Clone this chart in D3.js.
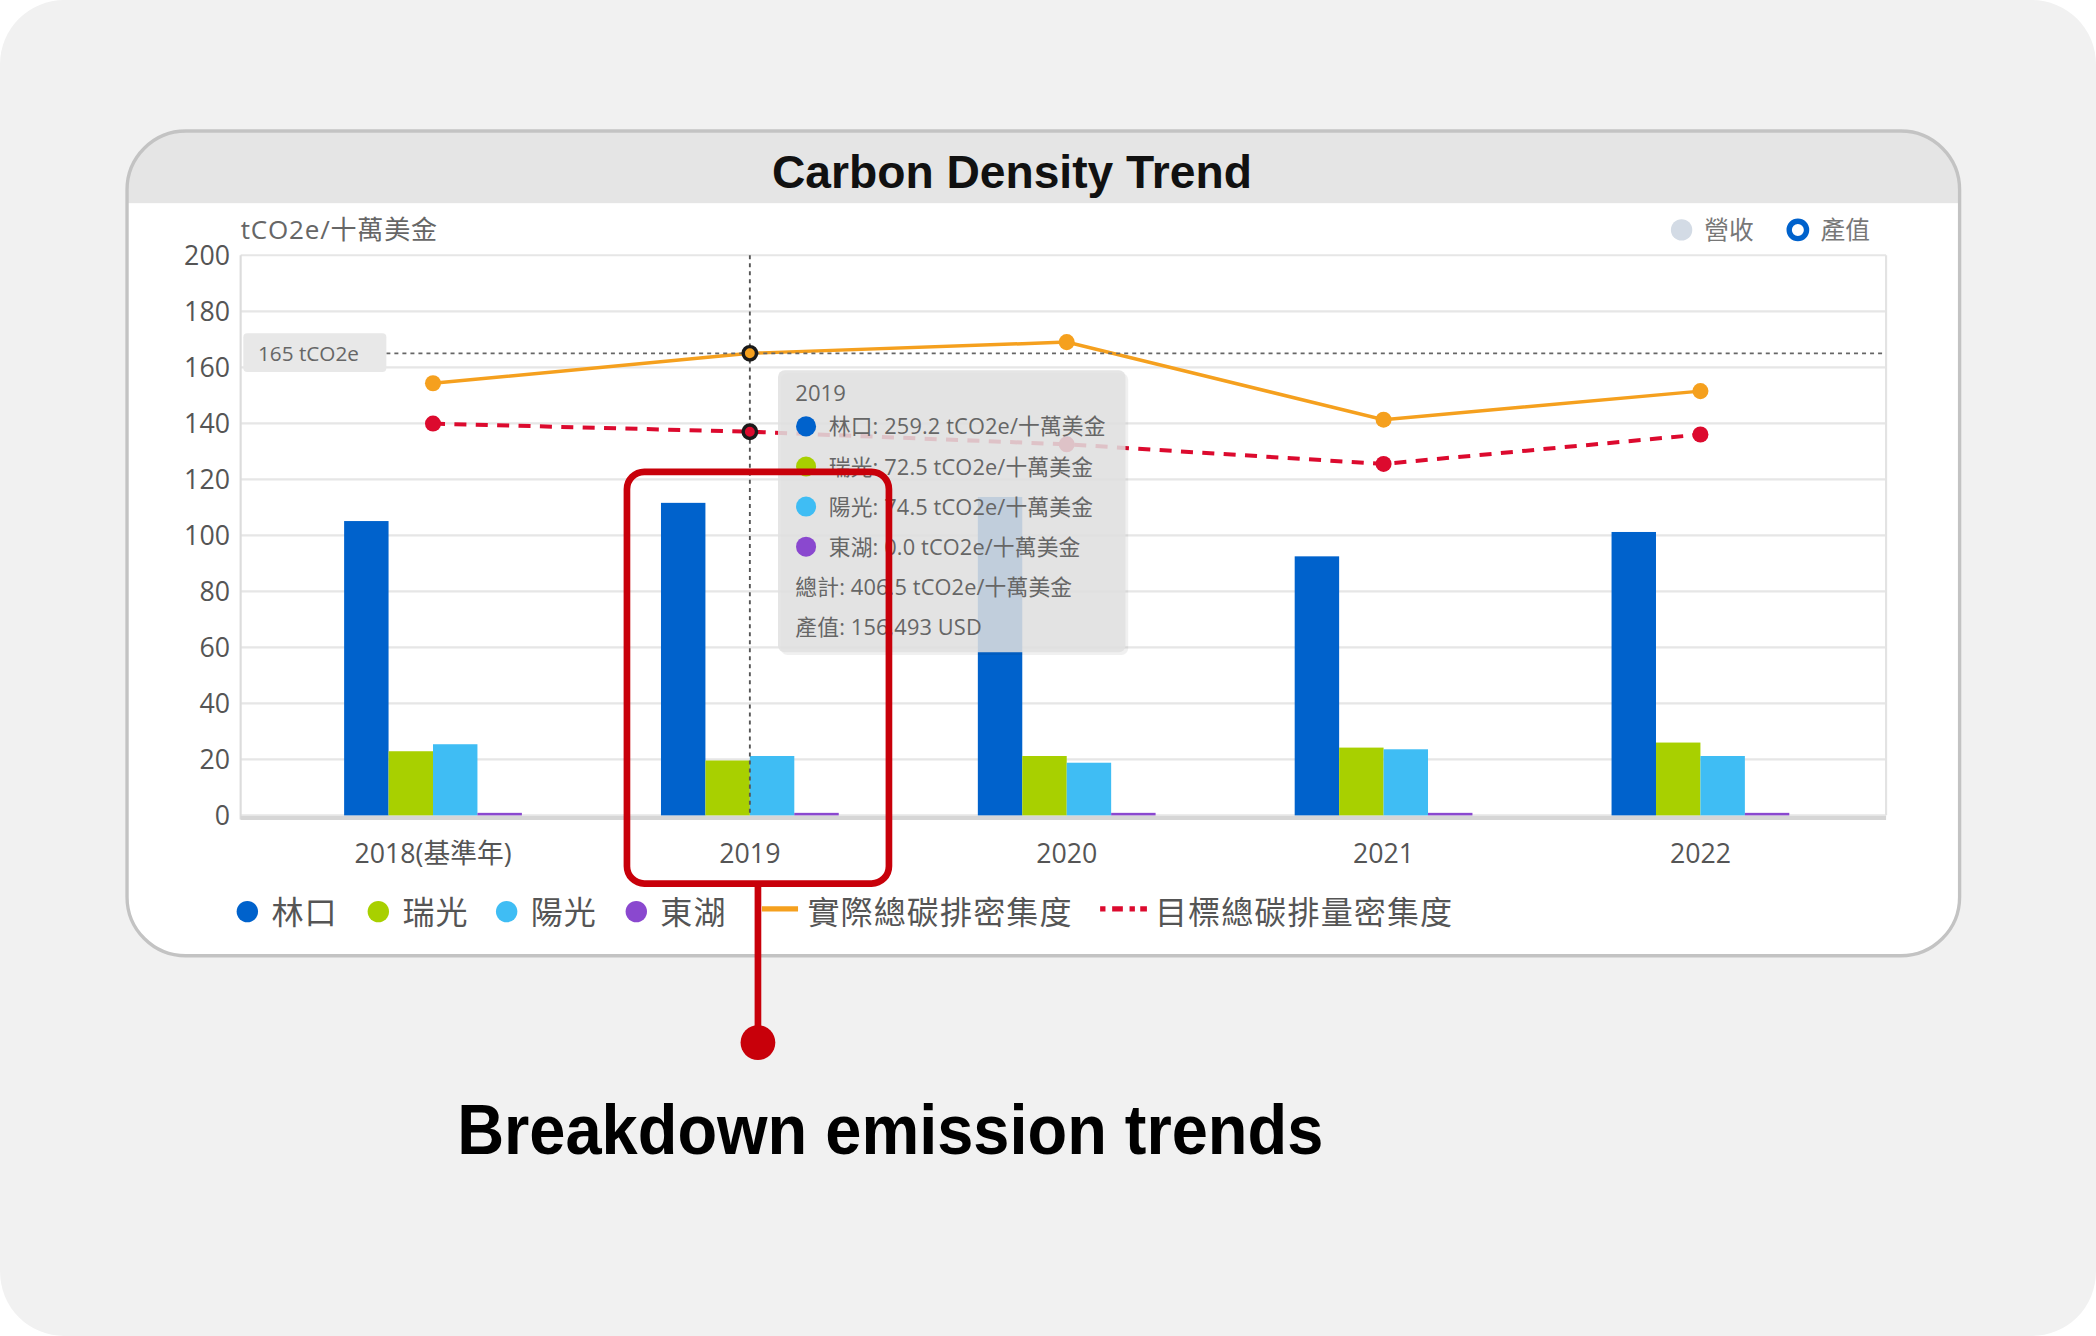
<!DOCTYPE html>
<html><head><meta charset="utf-8">
<script src="https://cdn.jsdelivr.net/npm/d3@7"></script>
<style>
html,body{margin:0;padding:0;background:#fff;}
svg{display:block;}
</style></head>
<body>
<svg id="c" width="2096" height="1336" viewBox="0 0 1568 999.5"></svg>
<script>
// ---- data ----
const years = ["2018(基準年)", "2019", "2020", "2021", "2022"];
const seriesNames = ["林口", "瑞光", "陽光", "東湖"];
const linkou = [105.1, 111.6, 113.7, 92.5, 101.2];
const ruiguang = [22.9, 19.6, 21.2, 24.2, 26.0];
const yangguang = [25.4, 21.2, 18.8, 23.6, 21.2];
const donghu = [0.9, 0.9, 0.9, 0.9, 0.9];
const actualDensity = [154.3, 165.0, 169.0, 141.3, 151.5];
const targetDensity = [139.9, 137.0, 132.5, 125.5, 136.0];
const yTicks = [0, 20, 40, 60, 80, 100, 120, 140, 160, 180, 200];
const lineNames = ["實際總碳排密集度", "目標總碳排量密集度"];
const topLegend = ["營收", "產值"];
const tooltipTitle = "2019";
const tooltipRows = ["林口: 259.2 tCO2e/十萬美金", "瑞光: 72.5 tCO2e/十萬美金", "陽光: 74.5 tCO2e/十萬美金", "東湖: 0.0 tCO2e/十萬美金"];
const tooltipExtra = ["總計: 406.5 tCO2e/十萬美金", "產值: 156,493 USD"];
const crosshairValue = 165;
const crosshairLabel = "165 tCO2e";
const highlightIndex = 1;

const colors = ["#0062cc", "#a8d000", "#3fbdf4", "#8a48cf"];
const orange = "#f5a01e", red = "#dc0a2e";
const FONT = "'Open Sans','Noto Sans CJK TC',sans-serif";
const HFONT = "'Liberation Sans','Inter',Arial,sans-serif";

const svg = d3.select("#c");
const W = 1568, H = 999.5;

// page background
svg.append("rect").attr("x",0).attr("y",0).attr("width",W).attr("height",H).attr("rx",48).attr("fill","#f1f1f1");

// card
const card = {x:95, y:98, w:1371, h:617, r:44};
const defs = svg.append("defs");
defs.append("clipPath").attr("id","cardClip").append("rect")
  .attr("x",card.x).attr("y",card.y).attr("width",card.w).attr("height",card.h).attr("rx",card.r);
svg.append("rect").attr("x",card.x).attr("y",card.y).attr("width",card.w).attr("height",card.h).attr("rx",card.r).attr("fill","#fff");
svg.append("rect").attr("clip-path","url(#cardClip)").attr("x",card.x).attr("y",card.y).attr("width",card.w).attr("height",54).attr("fill","#e5e5e5");
svg.append("rect").attr("x",card.x).attr("y",card.y).attr("width",card.w).attr("height",card.h).attr("rx",card.r)
  .attr("fill","none").attr("stroke","#c3c3c3").attr("stroke-width",2.5);

svg.append("text").attr("x",757).attr("y",141).attr("text-anchor","middle")
  .attr("font-family",HFONT).attr("font-weight",700).attr("font-size",34).attr("fill","#111")
  .attr("textLength",359).attr("lengthAdjust","spacingAndGlyphs").text("Carbon Density Trend");

// scales
const plot = {l:180, r:1411, t:191, b:610};
const x0 = d3.scaleBand().domain(years).range([plot.l + 2.5, plot.r + 2.5]).paddingInner(0.439).paddingOuter(0.316);
const x1 = d3.scaleBand().domain(seriesNames).range([0, x0.bandwidth()]).padding(0);
const y = d3.scaleLinear().domain([0, 200]).range([plot.b, plot.t]);
const cx = d => x0(d) + x0.bandwidth()/2;

// grid
const g = svg.append("g");
g.selectAll("line.grid").data(yTicks).join("line")
  .attr("x1",plot.l).attr("x2",plot.r).attr("y1",d=>y(d)).attr("y2",d=>y(d))
  .attr("stroke","#e6e6e6").attr("stroke-width",1.6);
g.append("line").attr("x1",plot.r).attr("x2",plot.r).attr("y1",plot.t).attr("y2",plot.b).attr("stroke","#e3e3e3").attr("stroke-width",1.6);
g.append("line").attr("x1",plot.l).attr("x2",plot.l).attr("y1",plot.t).attr("y2",plot.b+3).attr("stroke","#dcdcdc").attr("stroke-width",1.6);

// y axis
const yAxis = d3.axisLeft(y).tickValues(yTicks).tickSize(0).tickPadding(8);
const ya = svg.append("g").attr("transform",`translate(${plot.l},0)`).call(yAxis);
ya.select(".domain").remove();
ya.selectAll("text").attr("font-family",FONT).attr("font-size",20).attr("fill","#555").attr("x",-8);

svg.append("text").attr("x",180).attr("y",179).attr("font-family",FONT).attr("font-size",19.5).attr("letter-spacing",0.6).attr("fill","#666").text("tCO2e/十萬美金");

// bars
const seriesVals = [linkou, ruiguang, yangguang, donghu];
const barData = [];
years.forEach((yr,i)=> seriesVals.forEach((arr,j)=> barData.push({yr, s:seriesNames[j], v:arr[i], c:colors[j]})));
svg.append("g").selectAll("rect").data(barData).join("rect")
  .attr("x",d=>x0(d.yr)+x1(d.s)).attr("width",x1.bandwidth())
  .attr("y",d=>y(d.v)).attr("height",d=>y(0)-y(d.v)).attr("fill",d=>d.c);

// x axis
svg.append("line").attr("x1",plot.l).attr("x2",plot.r).attr("y1",plot.b+2).attr("y2",plot.b+2).attr("stroke","#d6d6d6").attr("stroke-width",3);
const xAxis = d3.axisBottom(x0).tickSize(0).tickPadding(0);
const xa = svg.append("g").attr("transform",`translate(0,${plot.b})`).call(xAxis);
xa.select(".domain").remove();
xa.selectAll("text").attr("font-family",FONT).attr("font-size",20).attr("fill","#555").attr("dy",0).attr("y",36);

// lines
const lineGen = d3.line().x((d,i)=>cx(years[i])).y(d=>y(d));
svg.append("path").datum(actualDensity).attr("d",lineGen).attr("fill","none").attr("stroke",orange).attr("stroke-width",2.6);
svg.append("path").datum(targetDensity).attr("d",lineGen).attr("fill","none").attr("stroke",red).attr("stroke-width",3).attr("stroke-dasharray","9,7");

// crosshair
svg.append("line").attr("x1",cx(years[highlightIndex])).attr("x2",cx(years[highlightIndex])).attr("y1",plot.t).attr("y2",plot.b)
  .attr("stroke","#555").attr("stroke-width",1.4).attr("stroke-dasharray","3,3");
svg.append("line").attr("x1",289).attr("x2",plot.r).attr("y1",y(crosshairValue)).attr("y2",y(crosshairValue))
  .attr("stroke","#666").attr("stroke-width",1.4).attr("stroke-dasharray","3,3");
svg.append("rect").attr("x",182).attr("y",y(crosshairValue)-15).attr("width",107).attr("height",29).attr("rx",3).attr("fill","#e8e8e8");
svg.append("text").attr("x",193).attr("y",y(crosshairValue)+6).attr("font-family",FONT).attr("font-size",15.5).attr("fill","#666").text(crosshairLabel);

// points
[[actualDensity, orange],[targetDensity, red]].forEach(([arr,col])=>{
  svg.append("g").selectAll("circle").data(arr).join("circle")
    .attr("cx",(d,i)=>cx(years[i])).attr("cy",d=>y(d))
    .attr("r",(d,i)=> i===highlightIndex?5:6)
    .attr("fill",col)
    .attr("stroke",(d,i)=> i===highlightIndex?"#1a1a1a":"none")
    .attr("stroke-width",2.6);
});

// tooltip
const tt = svg.append("g");
tt.append("rect").attr("x",584).attr("y",279).attr("width",260).attr("height",211).attr("rx",5).attr("fill","#000").attr("opacity",0.06);
tt.append("rect").attr("x",582).attr("y",277).attr("width",260).attr("height",211).attr("rx",5).attr("fill","#e1e1e1").attr("opacity",0.86);
tt.append("text").attr("x",595).attr("y",300).attr("font-family",FONT).attr("font-size",16.5).attr("fill","#666").text(tooltipTitle);
tooltipRows.forEach((t,i)=>{
  tt.append("circle").attr("cx",603).attr("cy",319+i*30).attr("r",7.5).attr("fill",colors[i]);
  tt.append("text").attr("x",620).attr("y",325+i*30).attr("font-family",FONT).attr("font-size",16.3).attr("letter-spacing",0.1).attr("fill","#666").text(t);
});
tooltipExtra.forEach((t,i)=>{
  tt.append("text").attr("x",595).attr("y",445+i*30).attr("font-family",FONT).attr("font-size",16.3).attr("letter-spacing",0.1).attr("fill","#666").text(t);
});

// top-right legend
svg.append("circle").attr("cx",1258).attr("cy",172).attr("r",8).attr("fill","#d3dbe5");
svg.append("text").attr("x",1275).attr("y",179).attr("font-family",FONT).attr("font-size",18.5).attr("fill","#777").text(topLegend[0]);
svg.append("circle").attr("cx",1345).attr("cy",172).attr("r",6.5).attr("fill","#fff").attr("stroke","#0062cc").attr("stroke-width",4);
svg.append("text").attr("x",1362).attr("y",179).attr("font-family",FONT).attr("font-size",18.5).attr("fill","#777").text(topLegend[1]);

// bottom legend
const lg = svg.append("g");
const legX = [185, 283, 379, 476];
seriesNames.forEach((n,i)=>{
  lg.append("circle").attr("cx",legX[i]).attr("cy",682).attr("r",8).attr("fill",colors[i]);
  lg.append("text").attr("x",legX[i]+18).attr("y",691).attr("font-family",FONT).attr("font-size",24).attr("letter-spacing",0.8).attr("fill","#555").text(n);
});
lg.append("line").attr("x1",570).attr("x2",597).attr("y1",680).attr("y2",680).attr("stroke",orange).attr("stroke-width",4);
lg.append("text").attr("x",604).attr("y",691).attr("font-family",FONT).attr("font-size",24).attr("letter-spacing",0.8).attr("fill","#555").text(lineNames[0]);
lg.append("line").attr("x1",823).attr("x2",858).attr("y1",680).attr("y2",680).attr("stroke",red).attr("stroke-width",4).attr("stroke-dasharray","4,5,8,5,4");
lg.append("text").attr("x",864).attr("y",691).attr("font-family",FONT).attr("font-size",24).attr("letter-spacing",0.8).attr("fill","#555").text(lineNames[1]);

// annotation
const an = svg.append("g");
an.append("rect").attr("x",469).attr("y",353).attr("width",196).attr("height",308).attr("rx",13)
  .attr("fill","none").attr("stroke","#c8000a").attr("stroke-width",5);
an.append("line").attr("x1",567).attr("x2",567).attr("y1",661).attr("y2",775).attr("stroke","#c8000a").attr("stroke-width",5);
an.append("circle").attr("cx",567).attr("cy",780).attr("r",13).attr("fill","#c8000a");
an.append("text").attr("x",342).attr("y",863).attr("font-family",HFONT).attr("font-weight",700).attr("font-size",52).attr("fill","#000")
  .attr("textLength",648).attr("lengthAdjust","spacingAndGlyphs").text("Breakdown emission trends");
</script>
</body></html>
